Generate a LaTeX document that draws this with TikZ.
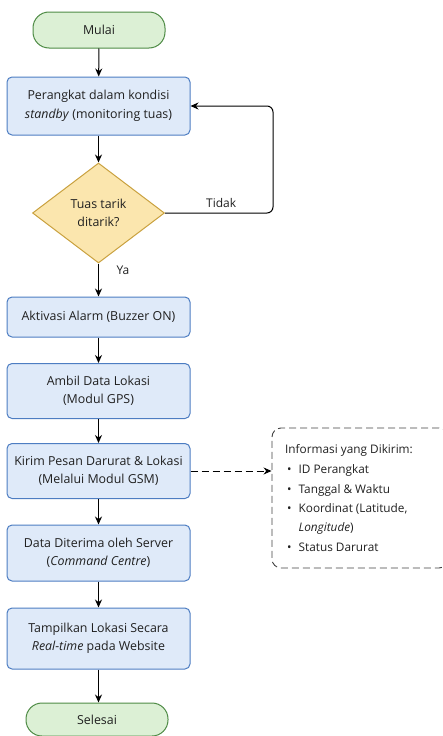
\documentclass[tikz,border=0pt]{standalone}
\usepackage{fontspec}
\setmainfont{Open Sans}
\usetikzlibrary{shapes.geometric,arrows.meta}
\definecolor{gfill}{HTML}{DCF0D5}
\definecolor{gdraw}{HTML}{4E8B45}
\definecolor{bfill}{HTML}{DFEAF9}
\definecolor{bdraw}{HTML}{4D7DC2}
\definecolor{yfill}{HTML}{FBE6AE}
\definecolor{ydraw}{HTML}{C9A13F}
\definecolor{txt}{HTML}{202020}
\begin{document}
\begin{tikzpicture}[x=1pt,y=-1pt,
  every node/.style={font=\fontsize{12.4}{18.5}\selectfont, text=txt},
  term/.style={draw=gdraw, fill=gfill, line width=1pt, rounded corners=16pt, minimum height=#1, inner sep=0pt},
  proc/.style={draw=bdraw, fill=bfill, line width=1pt, rounded corners=5pt, minimum width=183pt, minimum height=#1, inner sep=0pt, align=center},
  dec/.style={diamond, draw=ydraw, fill=yfill, line width=1pt, minimum width=132pt, minimum height=100pt, inner sep=0pt, align=center},
  arr/.style={draw=black, line width=1pt, -{Stealth[length=8pt,width=7pt]}},
  lbl/.style={font=\fontsize{12}{14}\selectfont},
  dsh/.style={dash pattern=on 7pt off 4pt},
  info/.style={font=\fontsize{11.8}{14}\selectfont, inner sep=0pt, anchor=base west}
]
\useasboundingbox (0,0) rectangle (443,736);
\clip (0,0) rectangle (443,736);
\node[term=36pt, minimum width=132pt] (start) at (99,30) {Mulai};
\node[proc=58pt] (p1) at (98.5,106) {Perangkat dalam kondisi\\\textit{standby} (monitoring tuas)};
\node[dec] (d) at (98.5,213) {Tuas tarik\\ditarik?};
\node[proc=40pt] (p2) at (98.5,317) {Aktivasi Alarm (Buzzer ON)};
\node[proc=55pt] (p3) at (98.5,391) {Ambil Data Lokasi\\(Modul GPS)};
\node[proc=55pt] (p4) at (98.5,471) {Kirim Pesan Darurat \& Lokasi\\(Melalui Modul GSM)};
\node[proc=56pt] (p5) at (98.5,553) {Data Diterima oleh Server\\(\textit{Command Centre})};
\node[proc=61pt] (p6) at (98.5,638.5) {Tampilkan Lokasi Secara\\\textit{Real-time} pada Website};
\node[term=33pt, minimum width=142pt] (end) at (97,719.5) {Selesai};
\node[draw=black!75, dsh, line width=0.9pt, rounded corners=9pt, minimum width=176pt, minimum height=140pt, inner sep=0pt] (info) at (360,498) {};
\node[info] (infot) at (285,453.5) {Informasi yang Dikirim:};
\node[info] (b1) at (287,473.5) {\textbullet\hspace{7pt}ID Perangkat};
\node[info] (b2) at (287,493.5) {\textbullet\hspace{7pt}Tanggal \& Waktu};
\node[info] (b3) at (287,512.5) {\textbullet\hspace{7pt}Koordinat (Latitude,};
\node[info] (b3b) at (287,531.5) {\hphantom{\textbullet\hspace{7pt}}\textit{Longitude})};
\node[info] (b4) at (287,551.5) {\textbullet\hspace{7pt}Status Darurat};
\draw[arr] (start) -- (p1);
\draw[arr] (p1) -- (d);
\draw[arr] (d) -- (p2);
\node[lbl] (ya) at (123,270) {Ya};
\draw[arr] (p2) -- (p3);
\draw[arr] (p3) -- (p4);
\draw[arr] (p4) -- (p5);
\draw[arr] (p5) -- (p6);
\draw[arr] (p6) -- (p6 |- end.north);
\coordinate (lp) at (273,213);
\draw[arr, rounded corners=6pt] (d.east) -- node[lbl, above=2pt, pos=0.52] (tidak) {Tidak} (lp) |- (p1.east);
\draw[arr, dsh] (p4.east) -- (p4.east -| info.west);
\end{tikzpicture}
\end{document}
